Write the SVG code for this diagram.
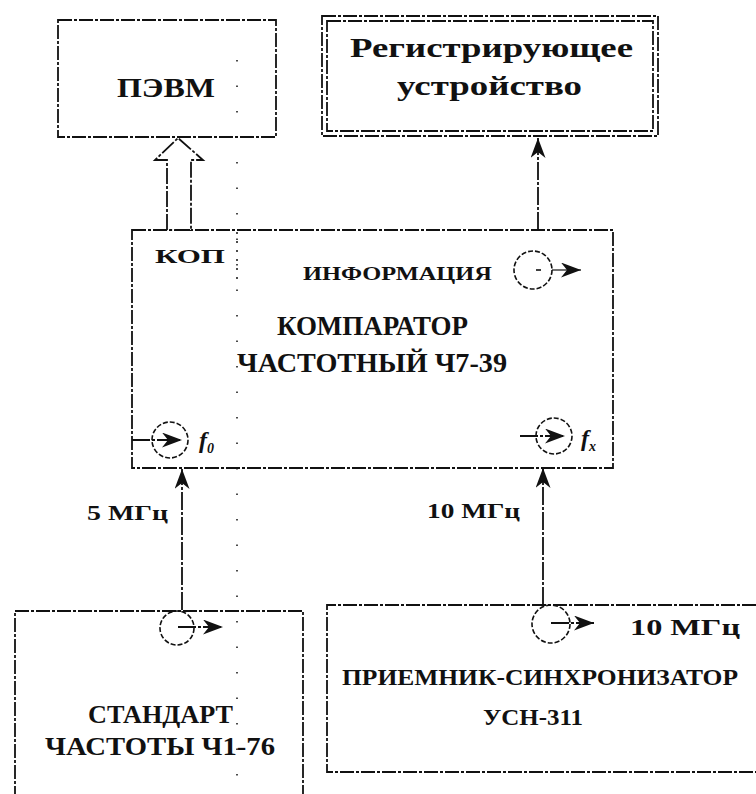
<svg xmlns="http://www.w3.org/2000/svg" width="756" height="794" viewBox="0 0 756 794">
<style>
.t{font-family:"Liberation Serif","DejaVu Serif",serif;font-weight:bold;fill:#111}
.f{font-family:"Liberation Serif","DejaVu Serif",serif;font-style:italic;font-weight:bold;fill:#111}
.box{fill:none;stroke:#111;stroke-width:1.8;stroke-dasharray:14 2 3 2}
.ln{fill:none;stroke:#111;stroke-width:1.8;stroke-dasharray:18 2 3 2}
.cir{fill:none;stroke:#111;stroke-width:1.6;stroke-dasharray:5 2}
.dot{fill:none;stroke:#111;stroke-width:1.5;stroke-dasharray:1.5 24}
</style>
<defs>
<marker id="ah" viewBox="0 0 20 15" refX="20" refY="7.5" markerWidth="20" markerHeight="15" markerUnits="userSpaceOnUse" orient="auto">
<path d="M0,0 L20,7.5 L0,15 L6,7.5 z" fill="#111"/>
</marker>
</defs>
<rect width="756" height="794" fill="#fff"/>
<line class="dot" x1="237" y1="60" x2="237" y2="794"/>

<g id="pevm">
<rect class="box" x="58" y="20" width="218" height="117"/>
<text class="t" x="117" y="97" font-size="27" textLength="98" lengthAdjust="spacingAndGlyphs">ПЭВМ</text>
</g>

<g id="registrator">
<rect class="box" x="322" y="16" width="336" height="120"/>
<rect class="box" x="327" y="21" width="326" height="110" stroke-width="1.4"/>
<text class="t" x="350" y="57" font-size="27" textLength="283" lengthAdjust="spacingAndGlyphs">Регистрирующее</text>
<text class="t" x="397" y="95" font-size="27" textLength="185" lengthAdjust="spacingAndGlyphs">устройство</text>
</g>

<g id="comparator">
<rect class="box" x="132" y="230" width="481" height="238"/>
<line x1="237" y1="232" x2="237" y2="284" stroke="#111" stroke-width="1.5" stroke-dasharray="2 7"/>
<text class="t" x="155" y="263" font-size="19" textLength="70" lengthAdjust="spacingAndGlyphs">КОП</text>
<text class="t" x="303" y="280" font-size="19" textLength="189" lengthAdjust="spacingAndGlyphs">ИНФОРМАЦИЯ</text>
<circle class="cir" cx="533" cy="270" r="19"/>
<line x1="536" y1="270" x2="541" y2="270" stroke="#111" stroke-width="1.6"/>
<text class="t" x="277" y="335" font-size="27" textLength="191" lengthAdjust="spacingAndGlyphs">КОМПАРАТОР</text>
<text class="t" x="237" y="372" font-size="27" textLength="270" lengthAdjust="spacingAndGlyphs">ЧАСТОТНЫЙ Ч7-39</text>
<circle class="cir" cx="170" cy="440" r="18"/>
<text class="f" x="199" y="448" font-size="24">f<tspan font-size="14" dy="5">0</tspan></text>
<circle class="cir" cx="554" cy="436" r="18"/>
<text class="f" x="581" y="446" font-size="24">f<tspan font-size="14" dy="5">x</tspan></text>
</g>

<g id="standard">
<path class="box" d="M15,800 L15,611 L303,611 L303,800"/>
<circle class="cir" cx="177" cy="628" r="17"/>
<text class="t" x="88" y="723" font-size="25" textLength="145" lengthAdjust="spacingAndGlyphs">СТАНДАРТ</text>
<text class="t" x="45" y="755" font-size="25" textLength="230" lengthAdjust="spacingAndGlyphs">ЧАСТОТЫ Ч1-76</text>
</g>

<g id="receiver">
<path class="box" d="M756,605 L327,605 L327,772 L756,772"/>
<circle class="cir" cx="551" cy="624" r="19"/>
<text class="t" x="630" y="635" font-size="24" textLength="110" lengthAdjust="spacingAndGlyphs">10 МГц</text>
<text class="t" x="342" y="685" font-size="24" textLength="396" lengthAdjust="spacingAndGlyphs">ПРИЕМНИК-СИНХРОНИЗАТОР</text>
<text class="t" x="483" y="725" font-size="24" textLength="100" lengthAdjust="spacingAndGlyphs">УСН-311</text>
</g>

<g id="connectors">
<polygon points="167,230 167,160 155,160 178,138 203,160 191,160 191,230" fill="#fff" stroke="#111" stroke-width="1.8" stroke-dasharray="16 2 3 2"/>
<line class="ln" x1="538" y1="230" x2="538" y2="138" marker-end="url(#ah)"/>
<line class="ln" x1="182" y1="610" x2="182" y2="469" marker-end="url(#ah)"/>
<line class="ln" x1="543" y1="605" x2="543" y2="468" marker-end="url(#ah)"/>
<line x1="552" y1="270" x2="581" y2="270" stroke="#111" stroke-width="1.2" marker-end="url(#ah)"/>
<line class="ln" x1="132" y1="440" x2="182" y2="440" marker-end="url(#ah)"/>
<line class="ln" x1="520" y1="436" x2="565" y2="436" marker-end="url(#ah)"/>
<line class="ln" x1="178" y1="627" x2="223" y2="627" marker-end="url(#ah)"/>
<line class="ln" x1="551" y1="623" x2="594" y2="623" marker-end="url(#ah)"/>
<text class="t" x="87" y="520" font-size="22" textLength="81" lengthAdjust="spacingAndGlyphs">5 МГц</text>
<text class="t" x="427" y="518" font-size="22" textLength="93" lengthAdjust="spacingAndGlyphs">10 МГц</text>
</g>
</svg>
